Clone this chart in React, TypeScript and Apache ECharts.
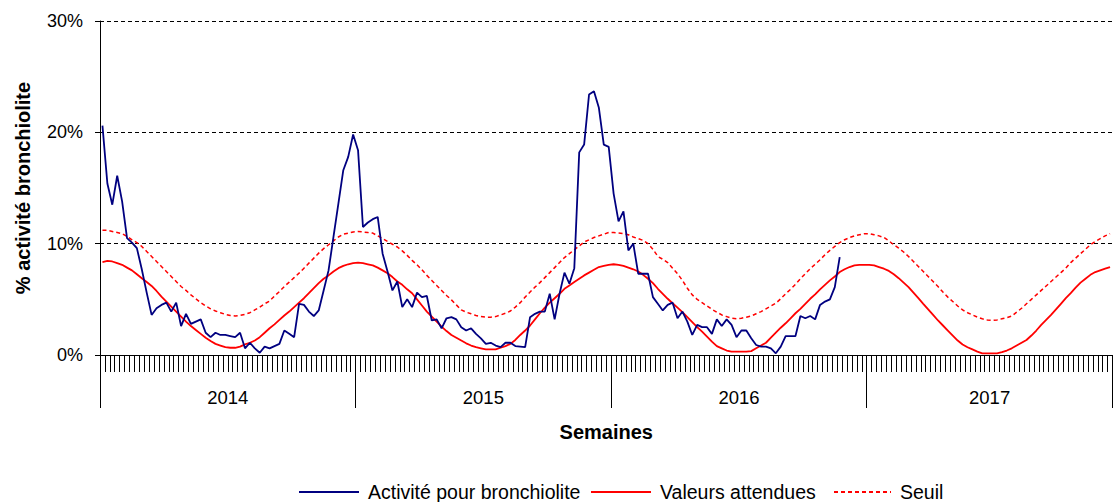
import React, { useEffect, useRef } from "react";
import * as echarts from "echarts";

const years = ["2014", "2015", "2016", "2017"];
const weeksPerYear = [52, 52, 52, 50];
const yTicks = [0, 10, 20, 30];

const activite = [
  20.6, 15.4, 13.5, 16.1, 13.8, 10.5, 10.1, 9.6, 7.7, 5.6,
  3.6, 4.2, 4.5, 4.7, 3.9, 4.7, 2.6, 3.7, 2.8, 3.0,
  3.2, 2.0, 1.6, 2.0, 1.8, 1.8, 1.7, 1.6, 2.0, 0.6,
  1.1, 0.6, 0.2, 0.75, 0.6, 0.8, 1.0, 2.2, 1.9, 1.6,
  4.6, 4.5, 3.9, 3.5, 4.0, 5.8, 7.6, 10.6, 13.6, 16.6,
  17.8, 19.8, 18.4, 11.5, 11.9, 12.2, 12.4, 9.1, 7.5, 5.8,
  6.6, 4.3, 5.0, 4.3, 5.6, 5.2, 5.3, 3.1, 3.2, 2.4,
  3.3, 3.4, 3.2, 2.5, 2.2, 2.4, 1.9, 1.5, 1.0, 1.1,
  0.85, 0.7, 1.1, 1.1, 0.8, 0.75, 0.7, 3.4, 3.7, 3.9,
  3.9, 5.5, 3.2, 5.5, 7.4, 6.4, 7.8, 18.2, 18.9, 23.4,
  23.7, 22.2, 18.9, 18.7, 14.5, 12.0, 12.9, 9.4, 10.0, 7.3,
  7.3, 7.3, 5.2, 4.6, 4.0, 4.5, 4.7, 3.3, 3.9, 3.0,
  1.8, 2.7, 2.5, 2.5, 1.9, 3.2, 2.6, 3.2, 2.7, 1.6,
  2.2, 2.2, 1.5, 0.9, 0.75, 0.75, 0.6, 0.15, 0.75, 1.7,
  1.7, 1.7, 3.5, 3.3, 3.5, 3.2, 4.5, 4.8, 5.0, 6.1,
  8.8,
];

const attendues = [
  8.35, 8.45, 8.4, 8.25, 8.1, 7.85, 7.6, 7.25, 6.9, 6.55,
  6.2, 5.75, 5.25, 4.8, 4.35, 3.9, 3.45, 3.0, 2.6, 2.25,
  1.9, 1.55, 1.25, 1.0, 0.85, 0.7, 0.65, 0.65, 0.75, 0.95,
  1.1, 1.3, 1.6, 2.0, 2.4, 2.75, 3.15, 3.55, 3.9, 4.3,
  4.7, 5.1, 5.55, 6.0, 6.45, 6.85, 7.15, 7.5, 7.8, 8.0,
  8.15, 8.25, 8.3, 8.25, 8.15, 8.05, 7.85, 7.6, 7.35, 7.0,
  6.6, 6.3, 5.9, 5.55, 5.0, 4.45, 3.9, 3.45, 3.0, 2.55,
  2.15, 1.8, 1.55, 1.3, 1.05, 0.85, 0.7, 0.6, 0.5, 0.5,
  0.5, 0.65, 0.8, 1.0, 1.35, 1.8, 2.2, 2.65, 3.2, 3.75,
  4.25, 4.7, 5.1, 5.5, 5.95, 6.25, 6.55, 6.85, 7.15, 7.4,
  7.65, 7.9, 8.0, 8.1, 8.15, 8.1, 8.0, 7.85, 7.7, 7.5,
  7.2, 6.85, 6.45, 5.95, 5.5, 5.05, 4.65, 4.25, 3.85, 3.4,
  2.95, 2.5, 2.1, 1.65, 1.2, 0.8, 0.6, 0.4, 0.3, 0.3,
  0.3, 0.3, 0.35, 0.6, 0.85, 1.1, 1.55, 2.0, 2.45, 2.85,
  3.3, 3.75, 4.15, 4.6, 5.05, 5.45, 5.9, 6.3, 6.7, 7.05,
  7.45, 7.7, 7.9, 8.05, 8.1, 8.1, 8.1, 8.05, 7.9, 7.75,
  7.55, 7.25, 6.9, 6.5, 6.1, 5.6, 5.1, 4.6, 4.1, 3.6,
  3.1, 2.65, 2.2, 1.75, 1.3, 0.95, 0.7, 0.5, 0.3, 0.15,
  0.15, 0.15, 0.15, 0.25, 0.4, 0.6, 0.85, 1.1, 1.35, 1.75,
  2.2, 2.7, 3.15, 3.6, 4.1, 4.6, 5.1, 5.55, 6.05, 6.5,
  6.85, 7.2, 7.45, 7.6, 7.75, 7.9,
];

const seuil = [
  11.2, 11.2, 11.1, 11.0, 10.9, 10.65, 10.35, 10.1, 9.75, 9.3,
  8.85, 8.4, 7.95, 7.5, 7.05, 6.6, 6.15, 5.8, 5.4, 5.05,
  4.7, 4.4, 4.15, 3.95, 3.8, 3.65, 3.55, 3.5, 3.55, 3.65,
  3.8, 4.05, 4.3, 4.6, 4.85, 5.3, 5.7, 6.15, 6.55, 6.95,
  7.35, 7.8, 8.25, 8.7, 9.15, 9.55, 9.9, 10.25, 10.6, 10.85,
  10.95, 11.05, 11.1, 11.05, 11.0, 10.95, 10.7, 10.45, 10.2, 9.95,
  9.7, 9.35, 8.95, 8.5, 8.1, 7.65, 7.15, 6.7, 6.25, 5.8,
  5.35, 4.95, 4.5, 4.05, 3.85, 3.7, 3.55, 3.45, 3.4, 3.4,
  3.45, 3.6, 3.75, 3.95, 4.3, 4.7, 5.2, 5.65, 6.1, 6.5,
  6.95, 7.4, 7.85, 8.3, 8.75, 9.1, 9.45, 9.8, 10.15, 10.35,
  10.55, 10.7, 10.85, 11.0, 11.0, 10.95, 10.9, 10.8, 10.6, 10.45,
  10.3, 10.0, 9.5, 8.85, 8.6, 8.3, 7.8, 7.3, 6.7, 6.0,
  5.4, 5.0, 4.7, 4.4, 4.1, 3.85, 3.6, 3.45, 3.3, 3.25,
  3.3, 3.4, 3.5, 3.7, 3.9, 4.15, 4.4, 4.65, 5.05, 5.5,
  5.9, 6.35, 6.85, 7.3, 7.75, 8.15, 8.55, 9.0, 9.4, 9.75,
  10.1, 10.35, 10.55, 10.7, 10.8, 10.9, 10.9, 10.8, 10.7, 10.55,
  10.25, 9.9, 9.6, 9.25, 8.85, 8.4, 7.95, 7.5, 7.05, 6.6,
  6.15, 5.65, 5.2, 4.8, 4.4, 4.05, 3.8, 3.6, 3.4, 3.25,
  3.15, 3.1, 3.15, 3.25, 3.35, 3.5, 3.85, 4.2, 4.6, 5.0,
  5.4, 5.8, 6.2, 6.6, 7.0, 7.4, 7.8, 8.3, 8.7, 9.1,
  9.5, 9.9, 10.2, 10.45, 10.7, 10.9,
];

const seriesNames = ["Activité pour bronchiolite", "Valeurs attendues", "Seuil"];

const FONT = "'Liberation Sans', Arial, sans-serif";

export default function App() {
  const ref = useRef<HTMLDivElement>(null);

  useEffect(() => {
    if (!ref.current) return;
    const chart = echarts.init(ref.current, null, { renderer: "svg" });

    const weeks: string[] = [];
    years.forEach((y, k) => {
      for (let w = 1; w <= weeksPerYear[k]; w++) {
        weeks.push(`${y}-S${String(w).padStart(2, "0")}`);
      }
    });
    const bounds: number[] = [0];
    weeksPerYear.forEach((n) => bounds.push(bounds[bounds.length - 1] + n));
    const mids = years.map((_, k) => (bounds[k] + bounds[k + 1]) / 2);
    const total = bounds[bounds.length - 1];

    const legendLefts = [298, 590, 833];
    const legendWidths = [60, 60, 57];
    const legendBase = {
      top: 482,
      padding: 0,
      itemHeight: 14,
      itemGap: 0,
      itemStyle: { opacity: 0, color: "rgba(0,0,0,0)", borderWidth: 0 },
      textStyle: {
        fontSize: 19.5,
        lineHeight: 18,
        color: "#000",
        fontFamily: FONT,
        padding: [0, 0, 0, 4],
      },
    };

    chart.setOption({
      animation: false,
      backgroundColor: "#ffffff",
      textStyle: { fontFamily: FONT, color: "#000" },
      grid: { left: 100, right: 1.5, top: 21, bottom: 147, containLabel: false },
      legend: seriesNames.map((n, k) => ({
        ...legendBase,
        left: legendLefts[k],
        itemWidth: legendWidths[k],
        data: [n],
      })),
      xAxis: [
        {
          type: "category",
          data: weeks,
          boundaryGap: true,
          axisLine: { show: true, lineStyle: { color: "#000", width: 1 } },
          axisTick: { show: true, interval: 0, length: 17, lineStyle: { color: "#000", width: 1 } },
          axisLabel: { show: false },
          splitLine: { show: false },
        },
        {
          type: "value",
          min: 0,
          max: total,
          position: "bottom",
          axisLine: { show: false },
          axisTick: { show: true, customValues: bounds, length: 53, lineStyle: { color: "#000", width: 1 } },
          axisLabel: {
            show: true,
            customValues: mids,
            formatter: (v: number) => years[mids.indexOf(v)] ?? "",
            margin: 33,
            fontSize: 18.5,
            color: "#000",
            fontFamily: FONT,
          },
          splitLine: { show: false },
          name: "Semaines",
          nameLocation: "middle",
          nameGap: 67,
          nameTextStyle: { fontSize: 20, fontWeight: "bold", color: "#000", fontFamily: FONT },
        },
      ],
      yAxis: {
        type: "value",
        min: yTicks[0],
        max: yTicks[yTicks.length - 1],
        interval: 10,
        axisLine: { show: true, lineStyle: { color: "#000", width: 1 } },
        axisTick: { show: true, length: 5, lineStyle: { color: "#000" } },
        axisLabel: { formatter: "{value}%", fontSize: 18, color: "#000", margin: 17, fontFamily: FONT },
        splitLine: { show: true, lineStyle: { color: "#000", type: [4, 3], width: 1 } },
        name: "% activité bronchiolite",
        nameLocation: "middle",
        nameGap: 67,
        nameTextStyle: { fontSize: 20, fontWeight: "bold", color: "#000", fontFamily: FONT },
      },
      series: [
        {
          name: seriesNames[0],
          type: "line",
          xAxisIndex: 0,
          data: activite,
          symbol: "none",
          lineStyle: { color: "#000080", width: 1.8 },
          itemStyle: { color: "#000080" },
          z: 4,
        },
        {
          name: seriesNames[1],
          type: "line",
          xAxisIndex: 0,
          data: attendues,
          symbol: "none",
          lineStyle: { color: "#ff0000", width: 1.8 },
          itemStyle: { color: "#ff0000" },
          z: 3,
        },
        {
          name: seriesNames[2],
          type: "line",
          xAxisIndex: 0,
          data: seuil,
          symbol: "none",
          lineStyle: { color: "#ff0000", width: 1.5, type: [4, 3] },
          itemStyle: { color: "#ff0000" },
          z: 3,
        },
      ],
    });

    return () => chart.dispose();
  }, []);

  return (
    <div
      ref={ref}
      style={{ position: "fixed", left: 0, top: 0, width: 1114, height: 502, background: "#fff" }}
    />
  );
}
